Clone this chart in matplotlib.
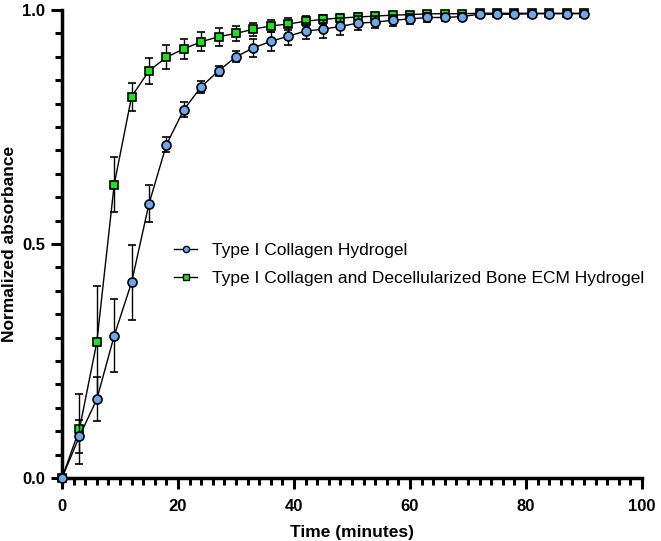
import matplotlib
matplotlib.use("Agg")
import matplotlib.pyplot as plt
from matplotlib.ticker import MultipleLocator, FormatStrFormatter
from matplotlib.lines import Line2D

time = [0, 3, 6, 9, 12, 15, 18, 21, 24, 27, 30, 33, 36, 39, 42, 45, 48, 51, 54, 57, 60,
        63, 66, 69, 72, 75, 78, 81, 84, 87, 90]

collagen = [0.0, 0.089, 0.168, 0.304, 0.418, 0.586, 0.712, 0.787, 0.836, 0.870, 0.900,
            0.919, 0.933, 0.944, 0.955, 0.959, 0.965, 0.972, 0.974, 0.978, 0.981,
            0.984, 0.984, 0.986, 0.991, 0.991, 0.991, 0.992, 0.992, 0.992, 0.992]
collagen_err = [0.0, 0.035, 0.047, 0.078, 0.080, 0.040, 0.016, 0.016, 0.013, 0.010, 0.012,
                0.019, 0.020, 0.019, 0.018, 0.019, 0.018, 0.015, 0.013, 0.012, 0.010,
                0.009, 0.008, 0.007, 0.006, 0.005, 0.005, 0.004, 0.004, 0.004, 0.004]

ecm = [0.0, 0.104, 0.290, 0.627, 0.815, 0.870, 0.899, 0.917, 0.932, 0.943, 0.950,
       0.959, 0.966, 0.970, 0.976, 0.980, 0.983, 0.985, 0.987, 0.989, 0.990,
       0.992, 0.992, 0.992, 0.993, 0.993, 0.993, 0.993, 0.993, 0.993, 0.993]
ecm_err = [0.0, 0.075, 0.120, 0.058, 0.030, 0.028, 0.026, 0.022, 0.020, 0.019, 0.016,
           0.014, 0.013, 0.012, 0.011, 0.010, 0.009, 0.008, 0.007, 0.006, 0.006,
           0.005, 0.005, 0.005, 0.004, 0.004, 0.004, 0.004, 0.004, 0.004, 0.004]

labels = ["Type I Collagen Hydrogel",
          "Type I Collagen and Decellularized Bone ECM Hydrogel"]

blue = '#6AA8F0'
green = '#1EE01E'

plt.rcParams['font.family'] = ['Liberation Sans', 'DejaVu Sans']

fig = plt.figure(figsize=(6.61, 5.41), dpi=100)
ax = fig.add_axes([62/661, 1-478/541, (642-62)/661, (478-10)/541])

ax.errorbar(time, ecm, yerr=ecm_err, color='black', lw=1.0, elinewidth=1.0,
            capsize=3, capthick=1.0, marker='s', markersize=6,
            markerfacecolor=green, markeredgecolor='black', markeredgewidth=1.2,
            zorder=2, clip_on=False)
ax.errorbar(time, collagen, yerr=collagen_err, color='black', lw=1.0, elinewidth=1.0,
            capsize=3, capthick=1.0, marker='o', markersize=6.5,
            markerfacecolor=blue, markeredgecolor='black', markeredgewidth=1.2,
            zorder=3, clip_on=False)

ax.set_xlim(0, 100)
ax.set_ylim(0, 1.0)
ax.xaxis.set_major_locator(MultipleLocator(20))
ax.xaxis.set_minor_locator(MultipleLocator(2))
ax.yaxis.set_major_locator(MultipleLocator(0.5))
ax.yaxis.set_minor_locator(MultipleLocator(0.05))
ax.yaxis.set_major_formatter(FormatStrFormatter('%.1f'))

for s in ['top', 'right']:
    ax.spines[s].set_visible(False)
for s in ['left', 'bottom']:
    ax.spines[s].set_linewidth(2.5)

ax.tick_params(which='major', length=8, width=2.2, labelsize=12)
ax.tick_params(which='minor', length=5, width=2.2)
ax.tick_params(axis='x', which='major', pad=7)
ax.tick_params(axis='y', which='major', pad=4)
for lab in ax.get_xticklabels() + ax.get_yticklabels():
    lab.set_fontweight('bold')

ax.set_xlabel("Time (minutes)", fontsize=12.5, fontweight='bold', labelpad=8)
ax.set_ylabel("Normalized absorbance", fontsize=12.5, fontweight='bold', labelpad=4)

h1 = Line2D([], [], color='black', lw=1.0, marker='o', markersize=4.5,
            markerfacecolor=blue, markeredgecolor='black', markeredgewidth=1.0)
h2 = Line2D([], [], color='black', lw=1.0, marker='s', markersize=4.5,
            markerfacecolor=green, markeredgecolor='black', markeredgewidth=1.0)
ax.legend([h1, h2], labels, loc='center left', bbox_to_anchor=(0.167, 0.456),
          frameon=False, fontsize=12.5, handlelength=1.3, handletextpad=0.85,
          labelspacing=0.72)

fig.savefig("out.png", dpi=100)
